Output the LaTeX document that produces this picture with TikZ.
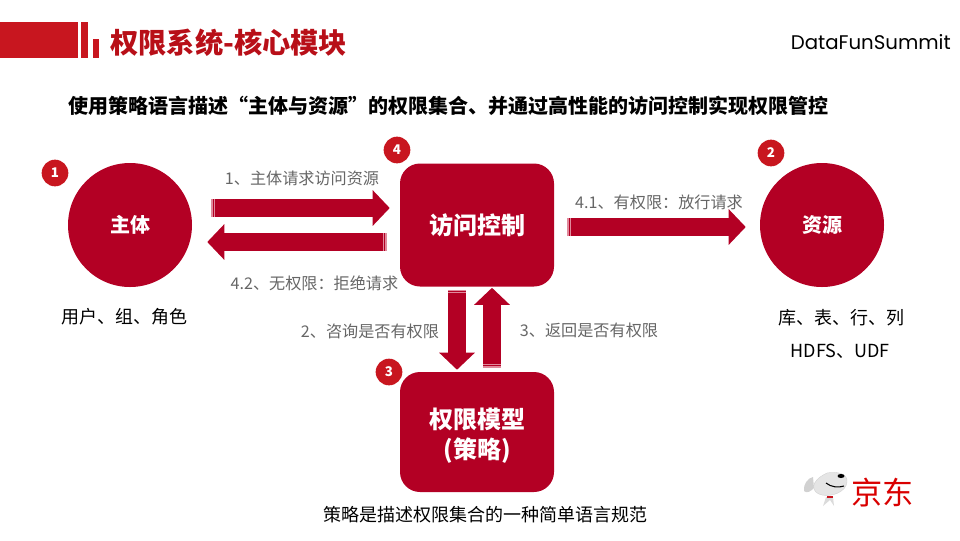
\documentclass[tikz,border=0pt]{standalone}
\usepackage{fontspec}
\setmainfont{Noto Sans CJK SC}
\newfontfamily\brandfont{Poppins}
\usetikzlibrary{arrows.meta}

\definecolor{jdred}{HTML}{B30024}
\definecolor{headred}{HTML}{C8161F}
\definecolor{titlered}{HTML}{B80F18}
\definecolor{palered}{HTML}{E08A9C}
\definecolor{notegray}{HTML}{666666}

\tikzstyle{process}=[rectangle, rounded corners=15pt, minimum width=115.5pt, minimum height=92.25pt, align=center, fill=jdred, text=white, font=\bfseries\fontsize{18}{22}\selectfont]
\tikzstyle{sphere}=[circle, minimum size=93pt, inner sep=0pt, fill=jdred, text=white, font=\bfseries\fontsize{15}{18}\selectfont]
\tikzstyle{badge}=[circle, minimum size=20pt, inner sep=0pt, fill=headred, text=white, font=\bfseries\fontsize{10}{12}\selectfont]
\tikzstyle{note}=[inner sep=0pt, text=notegray, font=\fontsize{12.1}{14}\selectfont]
\tikzstyle{caption}=[inner sep=0pt, text=black, font=\fontsize{13.5}{16}\selectfont]
\tikzstyle{arrow}=[jdred, line width=13.5pt, {Bar[width=13.5pt,line width=.9pt,sep=.9pt,color=palered] Bar[width=13.5pt,line width=.7pt,sep=.9pt,color=palered]}-{Triangle[length=12.75pt,width=26pt]}]

\begin{document}
\begin{tikzpicture}[x=.75pt, y=-.75pt]
\useasboundingbox (0,0) rectangle (960,540);

% header
\fill[headred] (0,22) rectangle (78,58);
\fill[headred] (81,22) rectangle (88,58);
\fill[headred] (93,39) rectangle (99,58);
\node(title)[anchor=west, inner sep=0pt, text=titlered, font=\bfseries\fontsize{21.2}{24}\selectfont] at (110,43){权限系统-核心模块};
\node(brand)[anchor=east, inner sep=0pt, font=\brandfont\fontsize{14.8}{16}\selectfont] at (951,42){DataFunSummit};
\node(head)[inner sep=0pt, font=\bfseries\fontsize{15}{18}\selectfont] at (448,106){使用策略语言描述“主体与资源”的权限集合、并通过高性能的访问控制实现权限管控};

% main blocks
\node(p0)[sphere] at (130,225){主体};
\node(p1)[process, right of=p0, node distance=260.25pt]{访问控制};
\node(p2)[sphere, right of=p1, node distance=258.75pt]{资源};
\node(p3)[process, below of=p1, node distance=155.25pt, minimum height=90pt]{\rule{0pt}{21pt}权限模型\\(策略)};

% badges
\node(b1)[badge, left of=p0, node distance=56.25pt, yshift=39pt]{1};
\node(b2)[badge, left of=p2, node distance=38.25pt, yshift=54pt]{2};
\node(b3)[badge, left of=p3, node distance=66pt, yshift=45pt]{3};
\node(b4)[badge, left of=p1, node distance=60pt, yshift=56.25pt]{4};

% labels on the arrows
\node(t1)[note, right of=p0, node distance=129pt, yshift=35.25pt]{1、主体请求访问资源};
\node(t2)[note, right of=p1, node distance=136.5pt, yshift=17.25pt]{4.1、有权限：放行请求};
\node(t3)[note, left of=p1, node distance=121.9pt, yshift=-43.5pt]{4.2、无权限：拒绝请求};
\node(t4)[note, left of=p1, node distance=80.25pt, yshift=-79.5pt]{2、咨询是否有权限};
\node(t5)[note, right of=p1, node distance=84pt, yshift=-78.75pt]{3、返回是否有权限};

% captions
\node(c0)[caption, below of=p0, node distance=69pt, xshift=-4.5pt]{用户、组、角色};
\node(c1)[caption, below of=p2, node distance=69.75pt, xshift=14.25pt]{库、表、行、列};
\node(c2)[caption, below of=c1, node distance=25pt, xshift=-.5pt]{HDFS、UDF};
\node(c3)[caption, below of=p3, node distance=62.25pt, xshift=6.4pt]{策略是描述权限集合的一种简单语言规范};

\draw[arrow, shorten <=13.5pt, shorten >=7.5pt]([yshift=12.75pt]p0.east)--([yshift=12.75pt]p1.west);
\draw[arrow, shorten <=9pt, shorten >=11.25pt]([yshift=-12.75pt]p1.west)--([yshift=-12.75pt]p0.east);
\draw[arrow, shorten <=9pt, shorten >=10.5pt]([yshift=-1.5pt]p1.east)--([yshift=-1.5pt]p2.west);
\draw[arrow, shorten <=1.5pt, shorten >=1.5pt]([xshift=-15pt]p1.south)--([xshift=-15pt]p3.north);
\draw[arrow, shorten <=2.25pt, shorten >=.75pt]([xshift=11.25pt]p3.north)--([xshift=11.25pt]p1.south);

% logo
\fill[black!18] (804,491) .. controls (803,484) and (808,478) .. (813,477) -- (814,488) .. controls (811,491) and (807,494) .. (804,491);
\fill[black!14] (823,506) -- (826,497) -- (833,497) -- (834,506) -- (830,500) -- cycle;
\fill[black!10, draw=black!18, line width=.3pt] (827,473) .. controls (838,471) and (848,474) .. (847,482) .. controls (846,492) and (832,497) .. (822,495) .. controls (812,493) and (808,482) .. (827,473);
\fill[black] (841,476) ellipse (3.5 and 2);
\draw[black, line width=.8pt] (826,483) .. controls (831,487) and (838,488) .. (844,486);
\fill[headred] (827,496) rectangle (833,498);
\node(jd)[anchor=west, inner sep=0pt, text=red!85!black, font=\fontsize{23.4}{26}\selectfont] at (851,493){京东};

\end{tikzpicture}
\end{document}
